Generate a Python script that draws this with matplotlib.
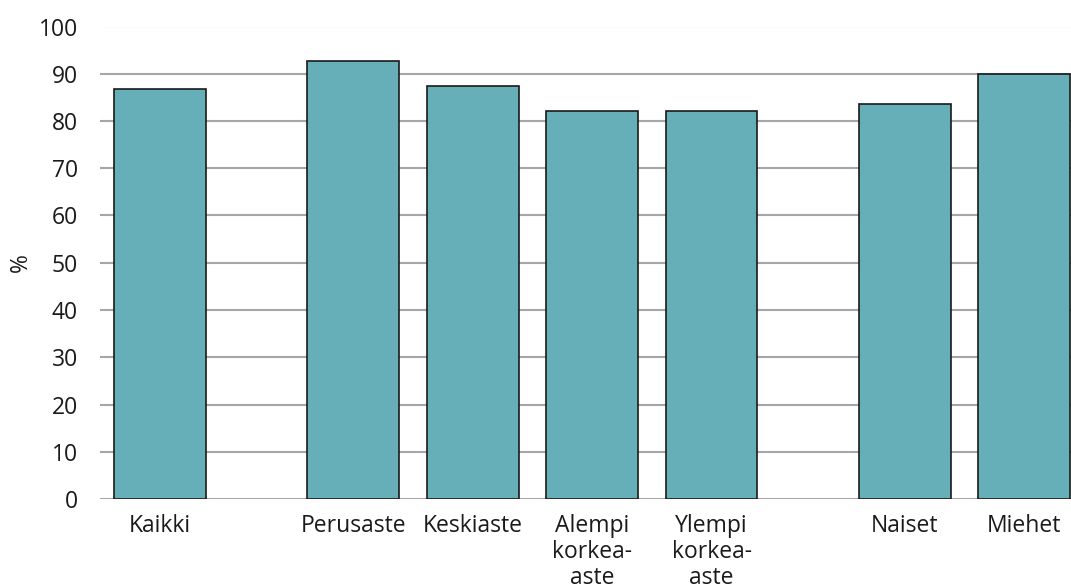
import matplotlib
matplotlib.use('Agg')
import matplotlib.pyplot as plt

# Data
categories = ['Kaikki', 'Perusaste', 'Keskiaste', 'Alempi\nkorkea-\naste',
              'Ylempi\nkorkea-\naste', 'Naiset', 'Miehet']
values = [86.8, 92.7, 87.5, 82.1, 82.1, 83.7, 90.0]
yticks = [0, 10, 20, 30, 40, 50, 60, 70, 80, 90, 100]

# x positions with wider gaps between groups
positions = [0, 1.62, 2.62, 3.62, 4.62, 6.24, 7.24]

plt.rcParams['font.family'] = ['Open Sans', 'DejaVu Sans']

fig = plt.figure(figsize=(10.71, 5.87), dpi=100)
ax = fig.add_axes([100 / 1071, 1 - 499 / 587, 1 - 100 / 1071, (499 - 26.5) / 587])

ax.bar(positions, values, width=0.77, color='#66afb8', edgecolor='#1a1a1a',
       linewidth=1.2, zorder=3)

ax.set_ylim(0, 100)
ax.set_xlim(-0.5, 7.63)
ax.set_yticks(yticks)
ax.yaxis.grid(True, color='#a6a6a6', linewidth=1.5, zorder=0)
ax.set_axisbelow(True)

for s in ax.spines.values():
    s.set_visible(False)

ax.tick_params(axis='both', length=0, labelsize=16.5, colors='#1a1a1a')
ax.tick_params(axis='y', pad=16)
ax.tick_params(axis='x', pad=11)
ax.set_xticks(positions)
ax.set_xticklabels(categories, linespacing=1.1)
ax.set_ylabel('%', fontsize=16.5, color='#1a1a1a', labelpad=4)

fig.savefig('out.png', dpi=100)
